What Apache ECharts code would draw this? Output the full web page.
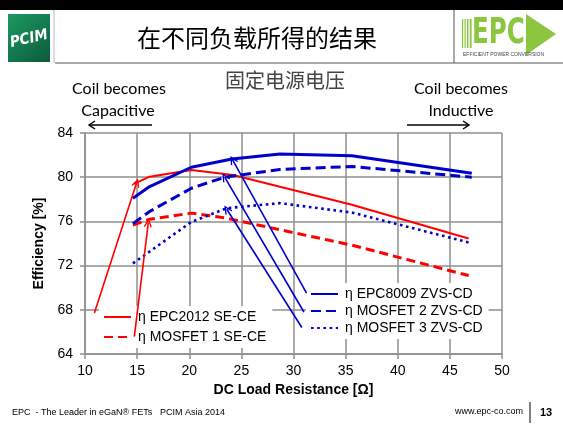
<!DOCTYPE html>
<html>
<head>
<meta charset="utf-8">
<script src="https://cdn.jsdelivr.net/npm/echarts@6/dist/echarts.min.js"></script>
<style>
  html, body { margin: 0; padding: 0; background: #fff; }
  #chart { width: 563px; height: 426px; }
</style>
</head>
<body>
<div id="chart"></div>
<script>
// Efficiency [%] versus DC load resistance [Ω], as [resistance, efficiency] pairs
const epc2012SeCe  = [[14.7, 79.4], [16.2, 80.05], [20.2, 80.65], [24.2, 80.2], [35.6, 77.5], [46.8, 74.45]];
const mosfet1SeCe  = [[14.6, 75.66], [16.2, 76.2], [20.2, 76.75], [23.5, 76.3], [35.6, 73.85], [46.8, 71.1]];
const epc8009ZvsCd = [[14.6, 78.1], [16.2, 79.15], [20.2, 80.9], [24.1, 81.65], [28.7, 82.1], [35.6, 81.95], [47.1, 80.36]];
const mosfet2ZvsCd = [[14.6, 75.8], [16.2, 76.9], [20.2, 79.0], [23.4, 80.0], [28.7, 80.7], [35.6, 80.97], [47.1, 80.0]];
const mosfet3ZvsCd = [[14.6, 72.2], [20.2, 75.95], [23.6, 77.2], [28.7, 77.65], [35.6, 76.8], [47.0, 74.05]];

const seriesNames = ['η EPC2012 SE-CE', 'η MOSFET 1 SE-CE', 'η EPC8009 ZVS-CD', 'η MOSFET 2 ZVS-CD', 'η MOSFET 3 ZVS-CD'];

// Axis ranges and tick steps
const xRange = [10, 50], xStep = 5;
const yRange = [64, 84], yStep = 4;

// Callout arrows linking legend entries to their curves: [from, to] in data units
const redCallouts  = [[[10.9, 67.7], [14.95, 79.5]], [[14.73, 65.57], [16.07, 75.87]]];
const blueCallouts = [[[31.25, 69.5], [24.16, 81.57]], [[31.0, 67.8], [23.4, 80.0]], [[30.8, 66.4], [23.6, 77.1]]];

const RED = '#ff0000';
const BLUE = '#0000cc';
const GRID = '#8f8f8f';
const FONT = '"Liberation Sans", Arial, sans-serif';
const CJK = '"Noto Sans CJK SC", sans-serif';
const SLIDE = 'Lato, "Open Sans", sans-serif';

// Open chevron arrow head, tip pointing up
const chevron = 'path://M5,0 L10,9 L8.7,10 L5,3.2 L1.3,10 L0,9 Z';

function calloutLines(list, color) {
  return list.map(([a, b]) => [
    { coord: a, lineStyle: { color: color, width: 1.6, type: 'solid' } },
    { coord: b }
  ]);
}

function lineSeries(name, data, color, width, type) {
  return {
    name: name,
    type: 'line',
    data: data,
    symbol: 'none',
    showSymbol: false,
    smooth: false,
    z: 2,
    lineStyle: { color: color, width: width, type: type },
    itemStyle: { color: color },
    emphasis: { disabled: true },
    animation: false
  };
}

const legendCommon = {
  orient: 'vertical',
  itemWidth: 27,
  itemHeight: 14,
  backgroundColor: '#ffffff',
  selectedMode: false,
  // line sample only, no marker dot
  itemStyle: { opacity: 0 },
  lineStyle: { opacity: 1 }
};

const chart = echarts.init(document.getElementById('chart'), null, { renderer: 'canvas' });

const option = {
  backgroundColor: '#ffffff',
  animation: false,
  textStyle: { fontFamily: FONT },
  grid: { left: 85, right: 61, top: 133, bottom: 72, containLabel: false },
  xAxis: {
    type: 'value',
    min: xRange[0], max: xRange[1], interval: xStep,
    name: 'DC Load Resistance [Ω]',
    nameLocation: 'middle',
    nameGap: 23,
    nameTextStyle: { fontFamily: FONT, fontSize: 14, fontWeight: 'bold', color: '#000' },
    axisLine: { show: true, lineStyle: { color: GRID, width: 1.5 } },
    axisTick: { show: true, length: 5, lineStyle: { color: GRID, width: 1.5 } },
    axisLabel: { fontFamily: FONT, fontSize: 14, color: '#000', margin: 10 },
    splitLine: { show: true, lineStyle: { color: GRID, width: 1.5 } }
  },
  yAxis: {
    type: 'value',
    min: yRange[0], max: yRange[1], interval: yStep,
    name: 'Efficiency [%]',
    nameLocation: 'middle',
    nameGap: 38,
    nameRotate: 90,
    nameTextStyle: { fontFamily: FONT, fontSize: 14, fontWeight: 'bold', color: '#000' },
    axisLine: { show: true, lineStyle: { color: GRID, width: 1.5 } },
    axisTick: { show: true, length: 5, lineStyle: { color: GRID, width: 1.5 } },
    axisLabel: { fontFamily: FONT, fontSize: 14, color: '#000', margin: 12 },
    splitLine: { show: true, lineStyle: { color: GRID, width: 1.5 } }
  },
  legend: [
    Object.assign({}, legendCommon, {
      data: [seriesNames[0], seriesNames[1]],
      left: 99, top: 306,
      itemGap: 6,
      padding: [4, 6, 4, 4],
      textStyle: { fontFamily: FONT, fontSize: 14, color: '#000', padding: [0, 0, 0, 2] }
    }),
    Object.assign({}, legendCommon, {
      data: [seriesNames[2], seriesNames[3], seriesNames[4]],
      left: 306, top: 283,
      itemGap: 3,
      padding: [4, 6, 4, 4],
      textStyle: { fontFamily: FONT, fontSize: 14, color: '#000', padding: [0, 0, 0, 2] }
    })
  ],
  series: [
    lineSeries(seriesNames[0], epc2012SeCe, RED, 2, 'solid'),
    lineSeries(seriesNames[1], mosfet1SeCe, RED, 3, [9, 5]),
    lineSeries(seriesNames[2], epc8009ZvsCd, BLUE, 3, 'solid'),
    lineSeries(seriesNames[3], mosfet2ZvsCd, BLUE, 3, [10, 5]),
    lineSeries(seriesNames[4], mosfet3ZvsCd, BLUE, 2.6, [2.6, 3.6]),
    {
      // carries the callout arrows, drawn above the legend boxes
      name: 'callouts',
      type: 'line',
      data: [],
      z: 6,
      silent: true,
      animation: false,
      markLine: {
        silent: true,
        animation: false,
        symbol: ['none', chevron],
        symbolSize: [8, 9],
        label: { show: false },
        emphasis: { disabled: true },
        data: calloutLines(redCallouts, RED).concat(calloutLines(blueCallouts, BLUE))
      }
    }
  ],
  graphic: [
    // top black band
    { type: 'rect', shape: { x: 0, y: 0, width: 563, height: 10 }, style: { fill: '#000' }, silent: true },
    // header frame lines
    { type: 'line', shape: { x1: 55, y1: 63, x2: 563, y2: 63 }, style: { stroke: '#555', lineWidth: 1 }, silent: true },
    { type: 'line', shape: { x1: 54, y1: 10, x2: 54, y2: 63 }, style: { stroke: '#bbb', lineWidth: 1 }, silent: true },
    { type: 'line', shape: { x1: 454, y1: 10, x2: 454, y2: 63 }, style: { stroke: '#555', lineWidth: 1 }, silent: true },
    // PCIM badge
    {
      type: 'rect', shape: { x: 8, y: 14, width: 42, height: 48 },
      style: {
        fill: new echarts.graphic.LinearGradient(0, 0, 1, 1, [
          { offset: 0, color: '#1c9a63' }, { offset: 1, color: '#0b5b3a' }
        ])
      }, silent: true
    },
    {
      type: 'text', x: 29, y: 39, rotation: 0.22,
      style: { text: 'PCIM', font: 'italic bold 15px "DejaVu Sans Condensed", sans-serif', fill: '#ffffff', align: 'center', verticalAlign: 'middle' },
      silent: true
    },
    // slide title
    {
      type: 'text', x: 257, y: 38,
      style: { text: '在不同负载所得的结果', font: '24px ' + CJK, fill: '#000', align: 'center', verticalAlign: 'middle' },
      silent: true
    },
    // EPC logo: stripes, letters, arrow, tagline
    { type: 'rect', shape: { x: 462, y: 19, width: 1.2, height: 29 }, style: { fill: '#8cc63f' }, silent: true },
    { type: 'rect', shape: { x: 464.5, y: 19, width: 1.2, height: 29 }, style: { fill: '#8cc63f' }, silent: true },
    { type: 'rect', shape: { x: 467, y: 19, width: 1.5, height: 29 }, style: { fill: '#8cc63f' }, silent: true },
    { type: 'rect', shape: { x: 469.8, y: 19, width: 1.8, height: 29 }, style: { fill: '#8cc63f' }, silent: true },
    {
      type: 'text', x: 472, y: 34,
      style: { text: 'EPC', font: 'bold 35px "DejaVu Sans Condensed", sans-serif', fill: '#8cc63f', align: 'left', verticalAlign: 'middle' },
      scaleX: 0.78, silent: true
    },
    { type: 'polygon', shape: { points: [[526, 14], [556, 34], [526, 55]] }, style: { fill: '#8cc63f' }, silent: true },
    {
      type: 'text', x: 463, y: 55,
      style: { text: 'EFFICIENT POWER CONVERSION', font: '5px ' + FONT, fill: '#444', align: 'left', verticalAlign: 'middle' },
      silent: true
    },
    // chart sub-heading and side notes
    {
      type: 'text', x: 285, y: 80,
      style: { text: '固定电源电压', font: '20px ' + CJK, fill: '#444', align: 'center', verticalAlign: 'middle' },
      silent: true
    },
    {
      type: 'text', x: 119, y: 89,
      style: { text: 'Coil becomes', font: '16px ' + SLIDE, fill: '#000', align: 'center', verticalAlign: 'middle' },
      silent: true
    },
    {
      type: 'text', x: 118, y: 111,
      style: { text: 'Capacitive', font: '16px ' + SLIDE, fill: '#000', align: 'center', verticalAlign: 'middle' },
      silent: true
    },
    {
      type: 'text', x: 461, y: 89,
      style: { text: 'Coil becomes', font: '16px ' + SLIDE, fill: '#000', align: 'center', verticalAlign: 'middle' },
      silent: true
    },
    {
      type: 'text', x: 461, y: 111,
      style: { text: 'Inductive', font: '16px ' + SLIDE, fill: '#000', align: 'center', verticalAlign: 'middle' },
      silent: true
    },
    { type: 'line', shape: { x1: 152, y1: 125, x2: 89, y2: 125 }, style: { stroke: '#000', lineWidth: 1.5 }, silent: true },
    { type: 'polyline', shape: { points: [[95, 121], [89, 125], [95, 129]] }, style: { stroke: '#000', lineWidth: 1.5, fill: null }, silent: true },
    { type: 'line', shape: { x1: 407, y1: 125, x2: 469, y2: 125 }, style: { stroke: '#000', lineWidth: 1.5 }, silent: true },
    { type: 'polyline', shape: { points: [[463, 121], [469, 125], [463, 129]] }, style: { stroke: '#000', lineWidth: 1.5, fill: null }, silent: true },
    // footer
    {
      type: 'text', x: 12, y: 413,
      style: { text: 'EPC  - The Leader in eGaN® FETs', font: '9px ' + FONT, fill: '#000', align: 'left', verticalAlign: 'middle' },
      silent: true
    },
    {
      type: 'text', x: 160, y: 413,
      style: { text: 'PCIM Asia 2014', font: '9px ' + FONT, fill: '#000', align: 'left', verticalAlign: 'middle' },
      silent: true
    },
    {
      type: 'text', x: 523, y: 412,
      style: { text: 'www.epc-co.com', font: '9px ' + FONT, fill: '#000', align: 'right', verticalAlign: 'middle' },
      silent: true
    },
    { type: 'line', shape: { x1: 530, y1: 402, x2: 530, y2: 423 }, style: { stroke: '#000', lineWidth: 1 }, silent: true },
    {
      type: 'text', x: 546, y: 413,
      style: { text: '13', font: 'bold 11px ' + FONT, fill: '#000', align: 'center', verticalAlign: 'middle' },
      silent: true
    }
  ]
};

chart.setOption(option);
</script>
</body>
</html>
